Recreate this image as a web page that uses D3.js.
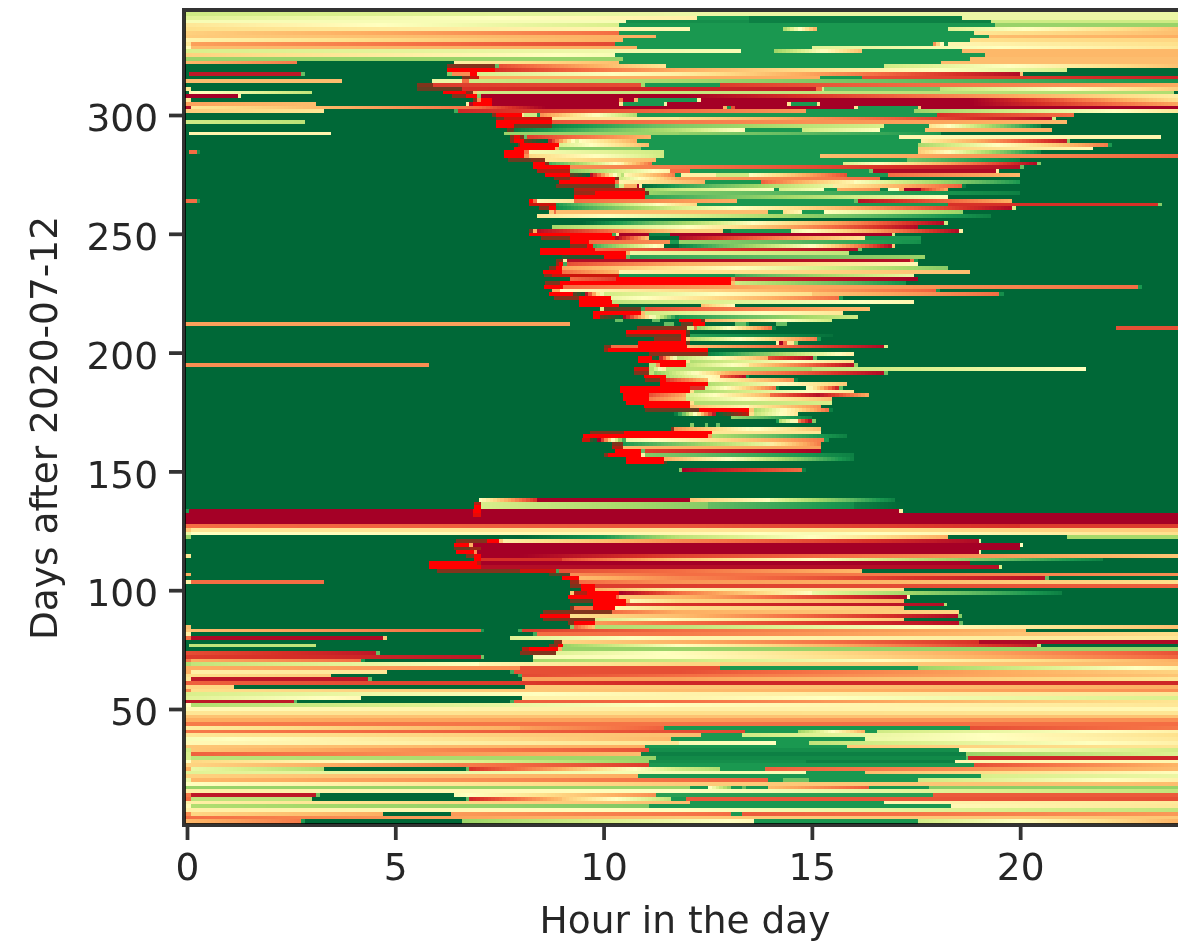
<!DOCTYPE html>
<html>
<head>
<meta charset="utf-8">
<script src="https://cdn.jsdelivr.net/npm/d3@7/dist/d3.min.js"></script>
<style>
  html, body { margin: 0; padding: 0; background: #fff; overflow: hidden; }
  text { font-family: "DejaVu Sans", sans-serif; fill: #262626; filter: blur(0.7px); }
</style>
</head>
<body>
<div id="chart"></div>
<script>
var width = 1178;
var height = 942;

var hourTicks = [0, 5, 10, 15, 20];
var dayTicks = [50, 100, 150, 200, 250, 300];
var xTitle = 'Hour in the day';
var yTitle = 'Days after 2020-07-12';

// matplotlib RdYlGn stops, 0 to 1
var paletteStops = [0, .1, .2, .3, .4, .5, .6, .7, .8, .9, 1];
var paletteColors = ['#a50026', '#d73027', '#f46d43', '#fdae61', '#fee08b', '#ffffbf', '#d9ef8b', '#a6d96a', '#66bd63', '#1a9850', '#006837'];

// Each row is one line of the heatmap, top first. A segment is
// [start hour, value] or [start hour, value at start, value at end].
// Negative values are under range: -1 is pure red, between 0 and -1 it blends from the green.
var rowsTop = [
  [[0,.62,.55],[12,.55]],
  [[0,.58,.45],[12.24,.9],[13.5,.95],[18.6,.55]],
  [[0,.52],[10.54,.92],[13.5,.95],[19.3,.62]],
  [[0,.42,.6],[10.37,.9],[19.4,.72]],
  [[0,.4,.48],[12.07,.9],[14.3,.7,.3],[15.12,.9],[18.26,.58,.33]],
  [[0,.37,.2],[10.37,.9],[18.9,.42,.33]],
  [[0,.36,.3],[11.26,.9],[19.25,.33,.3]],
  [[0,.46,.3],[10.46,.9],[18.8,.4,.38]],
  [[0,.42],[.1,.28,.14],[10.27,.9],[17.9,.2,.55],[18.16,.9],[18.26,.47,.4]],
  [[0,.48],[.1,.33,.3],[10.8,.9],[15,.58,.42]],
  [[0,.6,.52],[13.3,.9],[14.1,.72,.33],[16.2,.9],[18.6,.32]],
  [[0,.37,.52],[10.27,.9],[19.15,.32]],
  [[0,.72],[10.46,.9],[18.8,.33]],
  [[0,.32,.22],[2.64,1],[6.4,.45,.33],[10.37,.9],[18.1,.33]],
  [[0,1],[6.24,-.5],[7.4,.8],[7.5,.15,.42],[11.5,.9],[16.73,.62,.33]],
  [[0,1],[6.24,-1],[7.4,.1,.3],[11.8,.3,.6],[21.12,1]],
  [[0,1],[.05,.05],[2.74,.8],[2.83,1],[6.24,.75],[6.35,.25],[6.8,-1],[6.96,.6,.45],[11.8,.45,.02],[20,.35],[20.08,1]],
  [[0,1],[6.6,-.5],[6.8,-.8],[7,.3],[15.2,.9],[16.2,.15,.07]],
  [[0,.33],[3.72,1],[5.88,.55],[6.6,.2],[6.77,.62,.7],[11.8,.7,.92]],
  [[0,1],[5.52,-.5],[5.9,.12,.15],[10.9,.7],[11,.9],[12.8,.12,.3]],
  [[0,.42],[.1,1],[5.52,-.4],[6.6,.1,.06],[15.1,.2],[15.25,.6],[15.3,.78],[18.07,.65,.35]],
  [[0,1],[.05,.48,.65],[3,1],[6.15,-1],[6.7,-.5],[6.87,.35],[6.96,.62,.68],[23.7,1]],
  [[0,0],[1.23,.45],[1.3,1],[6.35,-.5],[6.7,-1],[6.96,.75],[7.06,0],[12,0,.45]],
  [[0,.42],[.1,1],[6.87,-.5],[6.96,.25],[7.06,-1],[7.32,0],[10.37,.22],[10.46,0],[10.73,.32],[10.82,.9],[12.24,.45],[12.33,0],[18.8,0,.42]],
  [[0,.28,.33],[3.1,1],[6.7,.45],[6.77,.02],[6.87,-1],[7.32,0],[10.37,.42],[10.46,.9],[11.45,.55],[11.52,0],[14.4,.42],[14.5,.9],[15.12,.42],[15.2,0],[18.8,0,.3]],
  [[0,.02],[.1,.42,.2],[7,.2,0],[8.6,0],[12.86,.3],[12.96,.9],[13.06,.15],[13.15,0],[16,.42],[16.1,.9],[17.54,.35],[17.62,0]],
  [[0,.36,.42],[3.29,1],[6.4,.85],[6.5,.08,.2],[11.8,.2,.27],[14.85,.9],[17.45,.72,.42]],
  [[0,1],[7.32,-.5],[7.42,-1],[8.04,.42],[8.1,.62],[8.4,.9],[8.47,.25,.68],[10.8,.9],[18,.1,.2],[21.3,1]],
  [[0,1],[7.42,-.4],[7.6,-.8],[8.76,.42],[11.8,.4,.02],[20.76,.62],[20.85,1]],
  [[0,.62,.66],[2.83,1],[7.42,-1],[8.76,.16,.22],[11.8,.22,.32],[21.12,1]],
  [[0,1],[7.42,-1],[7.85,-.4],[8.76,.95,.76],[11.8,.76,.6],[16.73,.9],[17.8,.4,.95],[20.5,1]],
  [[0,1],[7.67,-.4],[7.85,.97,.66],[11.8,.66,.48],[13.4,.9],[14.76,.62,.5],[16.63,.9],[17.71,.33,.3],[20.76,1]],
  [[0,1],[.05,.47],[3.45,1],[7.6,.72],[11.8,.73,.9],[18.1,1]],
  [[0,1],[7.75,-.5],[7.85,-.9],[8,-.5],[8.1,.8],[8.15,.12,.32],[11.15,.9],[17.09,.47],[23.38,1]],
  [[0,1],[7.75,-.5],[7.85,-1],[8.1,-.4,.6],[9.4,.5,.3],[10.8,.9],[17.62,.45,.05],[21.12,.75],[21.2,1]],
  [[0,1],[7.95,-.5],[8,-1],[8.93,.6,.32],[11.09,.9],[17.54,.7,.22],[22.1,.9],[22.2,1]],
  [[0,1],[7.85,-1],[8.83,.3],[8.93,.75],[10.9,.9],[17.54,.35,.48],[21.74,1]],
  [[0,1],[.05,.2],[.24,.92],[.31,1],[7.6,-1],[8.1,.2],[8.2,.52,.62],[11.45,.9],[17.54,.35,.95],[20.5,1]],
  [[0,1],[7.6,-1],[8.1,.25],[8.2,.38,.62],[11.45,.9],[15.2,.33,.18]],
  [[0,1],[7.7,-.4],[8.25,-.5],[8.6,.42,.32],[11.25,.9],[17.28,.78,.95],[20,1]],
  [[0,1],[8.3,-1],[8.6,-.5],[8.68,.85,.45],[10.5,.42,.2],[11.16,.9],[15.74,.6,.02],[20.4,.75],[20.5,1]],
  [[0,1],[8.31,-1],[9.19,.25,.22],[11.8,.22,.03],[20,.8],[20.1,1]],
  [[0,1],[8.4,-.7],[9.2,.75,.45],[11.6,.2],[12.07,.9],[16.37,.78],[16.46,.02],[19.42,.45],[19.5,1]],
  [[0,1],[8.6,-1],[9.2,-.4,.7],[10.5,.48,.22],[11.72,.9],[11.85,.45],[12.7,.62],[13.5,.5,.15],[15.85,.9],[16.82,.2,.32],[20,1]],
  [[0,1],[8.8,-.5],[9.2,-1],[10.27,-.5],[10.37,.62,.28],[11.8,.28,.2],[16.63,1]],
  [[0,1],[8.93,-1],[10.27,.22],[10.37,.47,.3],[12.43,.9],[13.78,.18,.47],[16,.5,.9],[20,1]],
  [[0,1],[8.85,-.45],[10.27,.8],[10.37,.6],[10.5,.3],[10.8,0],[10.85,.45],[10.93,1,.88],[11.8,.88,.55],[15.5,.45,.18],[18.6,.95],[18.7,1]],
  [[0,1],[9.3,-.7],[11,.72,.62],[11.8,.62,.5],[14.1,.9],[14.2,.6,.5],[15.3,.9],[15.6,.3,.25],[16.63,.95],[16.82,.5],[17.1,.3],[17.2,0],[17.62,.1,.3],[18.26,1]],
  [[0,1],[9.3,-.6],[9.8,-1],[11,-.4],[11.1,.72,.76],[11.8,.76,.95],[20,1]],
  [[0,1],[9.3,-1],[11,.88,.84],[11.8,.84,.5],[18.26,1]],
  [[0,.2],[.24,.9],[.31,1],[8.2,-1],[8.3,.2],[8.4,.48,.42],[9.3,.2,.3],[13.2,.9],[16,.8],[16.1,.03,.3],[19.8,1]],
  [[0,1],[8.2,-.8],[8.85,.9,.42],[11.8,.42,.38],[12.24,.9],[18.26,.1],[23.3,.75],[23.4,1]],
  [[0,1],[8.45,-.5],[8.7,-1],[8.85,.92,.6],[11.8,.6,.3],[16,.3,.02],[19.8,.6],[19.9,1]],
  [[0,1],[8.7,.35],[8.8,.2],[8.85,.33],[13.94,.9],[14.3,.4,.48],[14.76,.9],[15.3,.5,.72],[18.62,1]],
  [[0,1],[8.4,.42,.58],[11.8,.58,.95],[19.3,1]],
  [[0,1]],
  [[0,1],[9.5,1,.72],[11.8,.72,.45],[14,.45,.02],[18.16,.62],[18.26,1]],
  [[0,1],[8.76,.7,.52],[11.8,.52,.02],[17.54,1]],
  [[0,1],[8.2,-.5],[8.3,.3],[8.4,.03,.36],[11.8,.36],[12.86,.97],[13.06,.9],[14.5,.55,.02],[18.53,.45],[18.62,1]],
  [[0,1],[8.2,-1],[10.2,.85],[10.3,.42],[10.37,0],[11.1,.95],[11.6,0],[16.92,.62],[17,1]]
];

var rowsUpperMiddle = [
  [[0,1],[8.5,-.5],[9.2,-1],[10.27,0,.35],[11.09,1],[11.8,.02,.42],[16.27,.9],[17.62,1]],
  [[0,1],[9.2,-1],[9.65,.2,.25],[11.6,.9],[11.8,.72,.92],[17.62,1]],
  [[0,1],[9.2,-.5],[9.6,-1],[9.75,.85,.45],[11.45,1],[11.8,.95,.5],[15,.5,.02],[16.92,.35],[17,1]],
  [[0,1],[8.47,-1],[9.8,.2,.02],[16.1,.78],[16.2,1]],
  [[0,1],[8.47,-1],[10.54,.3],[10.63,.55,.65],[15.9,1]],
  [[0,1],[9,-.15],[10,-1],[10.54,.8],[10.63,.88,.72],[17.71,1]],
  [[0,1],[8.85,-.5],[9.03,.45],[9.12,.03],[17.35,.2],[17.45,.9],[17.54,1]],
  [[0,1],[8.85,-.6],[8.93,-1],[9.03,.85],[9.12,.15,.3],[11.8,.3,.48],[17.54,1]],
  [[0,1],[8.7,-.5],[8.85,-1],[9,.28,.43],[11.8,.43,.75],[18.26,1]],
  [[0,1],[8.55,-1],[9,.2,.32],[10.37,.47,.42],[11.8,.42,.33],[18.8,1]],
  [[0,1],[8.57,-.5],[8.75,-.8],[10.37,.9],[13.15,.85,.55],[17.45,1]],
  [[0,1],[9.19,.2,.12],[10.3,-1],[13.06,.2],[13.15,.08,0],[17.54,1]],
  [[0,1],[8.6,-.5],[8.95,-1],[13.06,.33],[13.15,.62,.92],[17.27,1]],
  [[0,1],[8.57,-1],[9.03,.2,.3],[14,.3,.2],[22.83,.9],[22.93,1]],
  [[0,1],[8.75,.3],[8.95,.5,.18],[17.98,.9],[18.07,1]],
  [[0,1],[8.7,-1],[9.27,-.4,.6],[10,.62,.4],[15,.35,.2],[19.5,.92],[19.6,1]],
  [[0,1],[8.8,-.5],[9.4,-1],[10.17,.55,.2],[15.65,.9],[15.75,1]],
  [[0,1],[9.4,-1],[10.2,.65,.47],[17.45,1]],
  [[0,1],[9.4,-1],[10.37,1],[12.34,.33,.5],[13.15,1]],
  [[0,1],[9.92,.6],[10,-.4],[10.9,.85],[11,.15,.33],[16.4,1]],
  [[0,1],[9.75,-1],[10.9,.33],[11,.62,.42],[15.74,1]],
  [[0,1],[9.75,-1],[9.92,-.4,.95],[11.8,.9,.62],[16.1,1]],
  [[0,1],[10.27,.8],[10.46,1],[11.16,.8],[11.35,1],[11.8,-1],[12.34,-.5],[12.43,.3,.62],[15.48,1]],
  [[0,.28],[9.19,1],[11.45,.8],[11.7,1],[11.85,-.4],[12.15,-1],[12.43,1],[13.15,.8],[13.42,.9],[13.5,1],[14.13,.8],[14.4,1]],
  [[0,1],[10.8,-.5],[12,.6],[12.17,.2],[12.25,.72,.2],[14.04,.95],[14.14,1],[22.3,.15]],
  [[0,1],[10.53,-1],[11.98,-.4],[12.07,1]],
  [[0,1],[10.53,-.45],[11.87,-1],[11.98,-.3],[12.07,.88,.98],[15.5,1]],
  [[0,1],[11.2,-.5],[11.87,-1],[11.98,.38],[12.07,.68,.22],[15.13,.9],[15.22,1]],
  [[0,1],[10.82,-1],[11.98,-.4],[12.07,1],[14.14,.45],[14.2,0],[14.31,.2],[14.4,.42],[14.57,.75],[14.66,1]],
  [[0,1],[10,-.5],[10.17,.2],[10.82,-1],[12,.35,.02],[16.72,.6],[16.82,1]],
  [[0,1],[10,-.6],[10.1,-1],[12.5,1]],
  [[0,1],[11.1,-.5],[12.5,.95,.45],[16,1]],
  [[0,1],[10.82,-1],[11.16,-.2,.7],[11.85,.65,.3],[13.94,.15,.02],[15.03,.8],[15.12,1]],
  [[0,1],[10.82,-1],[11.98,.4],[12.07,.68,.4],[16,1]],
  [[0,.25],[5.8,1],[11.1,.65],[11.27,.25],[11.35,-1],[11.98,.65,.45],[13.5,.4,.03],[16,.72],[16.1,1]],
  [[0,1],[10.73,-.8],[11.1,.7,.42],[11.5,.65,.7],[15,.65,.5],[21.58,1]],
  [[0,1],[10.73,-.5],[11.1,.65],[11.2,.75,.3],[13,.3,.02],[16.72,.78],[16.82,1]],
  [[0,1],[10.98,-1],[11.5,.68,.45],[12.8,.2,.02],[13.42,.9],[13.5,1]],
  [[0,1],[11,-.5],[11.35,-1],[11.5,.12,.33],[12.5,.5,.25],[14.57,.95],[14.66,1]],
  [[0,1],[11.35,-1],[12.5,.68,.35],[15.84,1]],
  [[0,1],[10.4,-1],[12.07,.1],[12.43,.62,.2],[14.14,.92],[14.2,1],[14.85,.55,.05],[15.65,.8],[15.75,1]],
  [[0,1],[10.4,-1],[12.07,.4],[12.17,.7,.42],[16,1]],
  [[0,1],[10.46,-1],[11.09,.15,.3],[11.98,.6,.3],[14,.2,.03],[15.2,.05,.3],[16.37,1]],
  [[0,1],[10.46,-1],[11.09,.22,.33],[11.98,.62,.33],[15.48,1]],
  [[0,1],[10.53,-1],[12.07,.4],[12.17,.68,.6],[15.48,1]],
  [[0,1],[10.98,-1],[12.07,.33,.48],[13.5,.45,.25],[15.22,1]],
  [[0,1],[11,-.4],[12.3,-1],[13.5,.35],[13.6,.7,.2],[15.4,.95],[15.5,1]],
  [[0,1],[11.7,1,-.8],[13.5,.4],[13.6,.65,.42],[14.66,1]],
  [[0,1],[13.06,.72,.95],[15,1]],
  [[0,1],[14.14,.9],[14.2,.7,.45],[14.66,.25,0],[15,.75],[15.1,1]],
  [[0,1],[12.07,.75],[12.17,1],[12.43,.8],[12.5,1],[12.7,.8],[12.8,1]],
  [[0,1],[11.63,-.5],[11.7,.25,.5],[13.5,.52,.33],[15.22,1]],
  [[0,1],[9.67,-.5],[10.5,-1],[12.6,.42],[15.22,1]],
  [[0,1],[9.5,-1],[12.5,.28],[12.6,.68,.95],[15.84,1]],
  [[0,1],[9.47,-.8],[9.67,-.3,.9],[10.53,.55,.22],[15.3,.9],[15.4,1]],
  [[0,1],[10.2,-.5],[10.46,.9,.55],[14,.45,.22],[15.22,1]],
  [[0,1],[10.2,-.7],[10.46,.32,.28],[15.22,1]],
  [[0,1],[10.28,-1],[10.9,.8],[11,.12,0],[15.22,1]],
  [[0,1],[10,-.5],[10.1,-1],[10.9,.45],[11,.75,.95],[16,1]],
  [[0,1],[10.53,-1],[11.45,.3,.5],[13,.5,.95],[16,1]],
  [[0,1],[10.53,-1],[11.45,-.3],[11.53,1]],
  [[0,1]],
  [[0,1],[11.8,.75],[11.88,0,.2],[14.76,.95],[14.85,1]],
  [[0,1]], [[0,1]], [[0,1]], [[0,1]], [[0,1]], [[0,1]], [[0,1]]
];

var rowsLowerMiddle = [
  [[0,1],[7,.5,.1],[8.4,0],[12.07,.35,.5],[14,.55,.95],[17,1]],
  [[0,1],[6.9,-.7],[7.05,.6,.75],[12.5,.8,.92],[16,.95,1],[17.2,1]],
  [[0,1],[6.9,-1],[7.05,.6,.75],[12.5,.8,.92],[16,.95,1],[17.2,1]],
  [[0,.9],[.05,0],[6.87,-1],[7.06,0],[17.09,.45],[17.18,1]],
  [[0,0],[6.87,-.9],[7.06,0]],
  [[0,0]],
  [[0,0]],
  [[0,.2,.16],[12,.16,.1],[20,.12]],
  [[0,.35],[.1,.42],[12,.42,.36]],
  [[0,.55],[.1,.5,.47],[11.8,.47,.52],[15,.52,.4]],
  [[0,.72],[.1,1],[8,1,.9],[10,.9,.66],[11.8,.66,.5],[15,.5,.3],[18.26,1],[21.12,.7]],
  [[0,1],[6.45,-.5],[7.2,-1],[7.49,.35],[7.58,.45,.24],[11.8,.24,.02],[19,.55],[19.06,1]],
  [[0,1],[6.4,-1],[6.77,.3],[6.86,0],[20,.5],[20.07,1]],
  [[0,1],[6.4,-.4],[6.8,-.6],[7.06,0],[20,1]],
  [[0,1],[6.45,-1],[6.9,.25],[6.96,0],[19,.45],[19.07,1]],
  [[0,.42],[.1,1],[6.7,-.5],[6.9,-1],[7.06,0],[8,0,.13],[11.8,.13,.35],[24,.42]],
  [[0,1],[6.9,-1],[7.06,.1],[9,.15,.35],[11.8,.35,.5],[15,.5,.95],[22,1]],
  [[0,1],[5.8,-1],[6.96,-.7],[7.06,0],[18.8,1]],
  [[0,1],[5.8,-1],[7.06,.03],[19.5,.6],[19.57,1]],
  [[0,1],[6,-.5],[8,-.8],[8.85,.85],[8.93,.15,.2],[11.8,.2,.32],[16.2,1]],
  [[0,.3],[.1,1],[8.7,-.3],[9.2,.25,.2],[11.8,.2,.25]],
  [[0,1],[9,-1],[9.4,.33,.24],[11.8,.24,.03],[20.6,.8],[20.7,1]],
  [[0,.45],[.1,.2],[3.29,1],[9.2,-.6],[9.4,.2,.26],[11.8,.26,.4]],
  [[0,1],[9.2,-.5],[9.45,-1],[9.8,.12],[11.8,.12,.18]],
  [[0,1],[9.45,-1],[9.8,.3,.46],[11.8,.46,.4],[17.2,1]],
  [[0,1],[9.2,.35],[9.3,-.7],[9.6,-1],[10.37,0,.2],[11.8,.2,.5],[15,.55,.95],[21,1]],
  [[0,1],[9.15,-1],[10.3,.2],[10.37,.35,.32],[11.8,.32,.02],[17.28,.48],[17.35,1]],
  [[0,1],[9.2,-.4],[9.75,-1],[10.54,.3],[10.63,.48,.38],[11.8,.38,.3],[17.2,1]],
  [[0,1],[9.75,-1],[10.54,.12,.1],[11.8,.1,.03],[18.16,.68],[18.25,1]],
  [[0,1],[9.2,-.5],[9.3,.2],[9.75,-1],[10.27,.47,.39],[11.8,.39,.35],[17.2,1]],
  [[0,1],[8.55,-.5],[10.2,.2,.3],[11.8,.3,.38],[18.53,1]],
  [[0,1],[8.47,-1],[9.2,.4,.33],[11.8,.33,.02],[18.5,.75],[18.6,1]],
  [[0,1],[8.55,-.5],[9.8,.6,.48],[11.8,.48,.35],[17.2,1]],
  [[0,1],[9.15,-.5],[9.3,-1],[9.8,.27,.2],[11.8,.2,.03],[18.53,.8],[18.62,1]],
  [[0,.33],[.1,1],[9.2,.75],[9.3,.18,.35],[9.8,.68,.65],[11.8,.65,.33]],
  [[0,.35],[.1,.33,.18],[7.06,.9],[7.13,1],[7.95,.85],[8.05,.12,.2],[11.8,.2,.32],[20.13,1]],
  [[0,.45],[.1,1],[8.3,.85],[8.4,.2,.22],[11.8,.22,.4]],
  [[0,.2],[.1,.02],[4.7,.35],[4.8,1],[7.75,.58,.47],[11.8,.47,.42]],
  [[0,1],[8.8,-.5],[9,.38,.31],[11.8,.31,.1],[19,.02]],
  [[0,1],[.05,.65],[3.1,1],[8.7,-.5],[8.9,-1],[9.03,.72,.5],[11.8,.5,.05],[20.4,.62],[20.5,1]],
  [[0,1],[8.05,-.7],[8.2,-1],[8.9,.3],[9,.72]],
  [[0,.15,.05],[4.53,.8],[4.63,1],[8,-.5],[8.85,.58,.49],[11.8,.49,.15]],
  [[0,.12,.05],[7.06,.78],[7.13,1],[8.3,.52,.5],[11.8,.5,.18]],
  [[0,.22],[.1,.3,.2],[4.18,.9],[4.27,1],[8.3,.7,.63],[11.8,.63,.3]]
];

var rowsBottom = [
  [[0,.68],[.1,.65,.5],[7,.47,.38],[11.8,.38,.32]],
  [[0,.3,.25],[8,.15],[12.8,.9],[17.54,.72,.45]],
  [[0,.3],[.1,.45,.42],[4.8,1],[7.75,.85],[7.85,.15],[11.8,.15,.38]],
  [[0,.4,.36],[3.45,1],[7.95,.85],[8.05,.14,.2],[11.8,.2,.35]],
  [[0,.42],[.1,.05],[4.35,.8],[4.44,1],[8.05,.28],[11.8,.28,.42]],
  [[0,.18,.08],[11.8,.08]],
  [[0,.38],[1.13,1],[8.11,.35],[11.8,.35,.3]],
  [[0,.25],[.1,.4,.33],[11.8,.33,.25]],
  [[0,.6,.46],[11.8,.46,.42]],
  [[0,.58,.48],[4.18,1],[8.05,.46],[11.8,.46,.6]],
  [[0,.05],[2.57,.8],[2.64,1],[7.75,.85],[7.85,.17,.2],[11.8,.2,.42]],
  [[0,.5],[.1,.68,.49],[11.8,.49,.42]],
  [[0,.48,.45],[11.8,.45,.48]],
  [[0,.42,.4],[11.8,.4,.42]],
  [[0,.34]],
  [[0,.3,.25]],
  [[0,.22,.2]],
  [[0,.44,.3],[8,.28,.18],[11.45,.9],[18.8,.15,.22]],
  [[0,.22,.14],[13.4,.9],[14.66,.72,.3],[16.27,.9],[16.56,.62,.45]],
  [[0,.42,.33],[12.34,.9],[13.32,.62,.4]],
  [[0,.52,.32],[11.62,.9],[16.27,.55,.42]],
  [[0,.48,.42],[11.8,.52,.5],[14.13,.9],[14.93,.65,.45]],
  [[0,.35,.3],[10.99,.9],[15.84,.35,.42]],
  [[0,.62],[.1,.35,.15],[11.1,.92],[18.53,.5,.62]],
  [[0,.6],[.1,.18,.33],[10.9,.95],[18.7,.72,.58]],
  [[0,.6],[.1,.65,.72],[11.25,.93],[18.7,.8],[18.75,.08]],
  [[0,.5],[.1,.38,.72],[11.1,.92],[14.85,.95],[18.43,.47]],
  [[0,.38,.12],[11.1,.9],[18.9,.15,.32]],
  [[0,.3],[.1,.55,.68],[3.29,1],[6.7,.8],[6.77,.1,.3],[9,.3,.62],[11.8,.62,.68],[12.8,.9],[13.87,.18,.33]],
  [[0,.58,.52],[11.8,.52],[14.85,.9],[16.27,.33,.5]],
  [[0,.37,.3],[10.82,.9],[19.06,.6,.55]],
  [[0,.55],[.1,.32,.18],[13.94,.9],[14.3,.78],[14.93,.9],[17.54,.62,.45]],
  [[0,.5,.36],[11.8,.36,.33]],
  [[0,.72],[12.07,.9],[12.5,.48,.75],[13.06,.9],[13.32,.8],[13.42,.9],[13.94,.33,.17],[16.37,.9],[17.81,.75,.72]],
  [[0,.45,.5],[11.8,.5,.65]],
  [[0,.22],[.1,.05],[3.1,.78],[3.2,1],[6.41,.52,.25],[11.25,.88],[17.9,.17]],
  [[0,.2],[.1,.65],[3,1],[6.7,.8],[6.77,.08,.33],[9,.35,.65],[11.62,.9],[11.98,.17,.15]],
  [[0,.45,.33],[12.07,.9],[16.73,.47,.43]],
  [[0,.48],[.1,.68,.76],[11.1,.9],[18.33,.48,.42]],
  [[0,.45,.5],[11.8,.5,.65]],
  [[0,.25],[.1,.38,.3],[4.7,1],[6.34,.27,.2],[13.05,.9],[13.32,.17,.27]],
  [[0,.2,.35],[11.8,.35]],
  [[0,.32,.22],[2.74,.9],[2.83,1],[6.6,.72,.48],[13.6,.9],[17.54,.62,.3]]
];

var rows = rowsTop.concat(rowsUpperMiddle, rowsLowerMiddle, rowsBottom);

var dayTop = 343.3;
var dayBottom = 2;
var hourEnd = 24;
var cellHours = 0.09;

var svg = d3.select('#chart')
  .append('svg')
  .attr('width', width)
  .attr('height', height);

var x = d3.scaleLinear().domain([0, 24]).range([187, 1186.8]);
var y = d3.scaleLinear().domain([0, 50]).range([827.8, 709]);
var dayStep = (dayTop - dayBottom) / rows.length;

var ramp = d3.scaleLinear()
  .domain(paletteStops)
  .range(paletteColors)
  .interpolate(d3.interpolateRgb);
var under = d3.interpolateRgb('#006837', '#ff0000');

var colorOf = function(v) {
  return v < 0 ? under(-v) : ramp(v);
};

// Flat segments become one rect, sloped ones are cut into cells
var cells = [];
rows.forEach(function(row, i) {
  row.forEach(function(seg, j) {
    var start = j === 0 ? -0.05 : seg[0];
    var end = j + 1 < row.length ? row[j + 1][0] : hourEnd;
    if (seg.length < 3) {
      cells.push({ row: i, h0: start, h1: end, v: seg[1] });
      return;
    }
    var n = Math.max(1, Math.round((end - start) / cellHours));
    d3.range(n).forEach(function(k) {
      cells.push({
        row: i,
        h0: start + (end - start) * k / n,
        h1: start + (end - start) * (k + 1) / n,
        v: seg[1] + (seg[2] - seg[1]) * (k + .5) / n
      });
    });
  });
});

svg.append('g')
  .attr('shape-rendering', 'crispEdges')
  .selectAll('rect')
  .data(cells)
  .enter()
  .append('rect')
  .attr('x', function(d) { return x(d.h0); })
  .attr('width', function(d) { return x(d.h1) - x(d.h0) + .5; })
  .attr('y', function(d) { return y(dayTop - d.row * dayStep); })
  .attr('height', function(d) { return y(dayTop - (d.row + 1) * dayStep) - y(dayTop - d.row * dayStep) + .5; })
  .attr('fill', function(d) { return colorOf(d.v); });

// Spines sit over the image and tint with it
var spines = svg.append('g')
  .attr('fill', '#000')
  .attr('fill-opacity', .8);
spines.append('rect').attr('x', 182).attr('y', 8).attr('width', 4).attr('height', 819);
spines.append('rect').attr('x', 186).attr('y', 8).attr('width', 992).attr('height', 4);
spines.append('rect').attr('x', 186).attr('y', 823).attr('width', 992).attr('height', 4);

var xAxis = d3.axisBottom(x)
  .tickValues(hourTicks)
  .tickSize(13)
  .tickPadding(13);
var yAxis = d3.axisLeft(y)
  .tickValues(dayTicks)
  .tickSize(13)
  .tickPadding(11);

var xAxisGroup = svg.append('g')
  .attr('transform', 'translate(0,827)')
  .call(xAxis);
var yAxisGroup = svg.append('g')
  .attr('transform', 'translate(182,0)')
  .call(yAxis);

[xAxisGroup, yAxisGroup].forEach(function(group) {
  group.select('.domain').remove();
  group.selectAll('line').attr('stroke', '#333').attr('stroke-width', 3.75);
  group.selectAll('text')
    .attr('font-size', 37.5)
    .style('font-family', '"DejaVu Sans", sans-serif')
    .attr('fill', '#262626');
});
yAxisGroup.selectAll('text').attr('dy', '.42em');

svg.append('text')
  .attr('x', 685)
  .attr('y', 933)
  .attr('text-anchor', 'middle')
  .attr('font-size', 37.5)
  .text(xTitle);

svg.append('text')
  .attr('transform', 'translate(57,428) rotate(-90)')
  .attr('text-anchor', 'middle')
  .attr('font-size', 37.5)
  .text(yTitle);
</script>
</body>
</html>
